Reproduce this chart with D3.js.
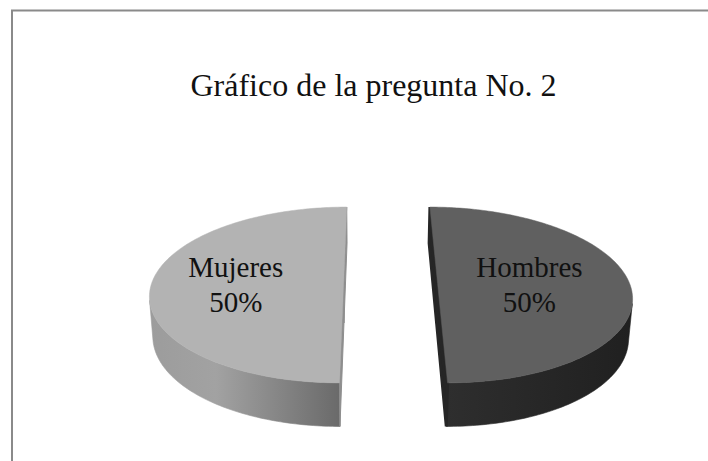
<!DOCTYPE html>
<html><head><meta charset="utf-8">
<script src="https://cdn.jsdelivr.net/npm/d3@7"></script>
<style>html,body{margin:0;padding:0;background:#fff;} svg{display:block;}</style>
</head><body>
<script>
// ---- data ----
const title = "Gráfico de la pregunta No. 2";
const categories = ["Hombres", "Mujeres"];
const values = [50, 50];

// ---- styles ----
const topColors = ["#606060", "#b3b3b3"];
const sideStops = [
  [["0", "#2e2e2e"], ["1", "#202020"]],
  [["0", "#9c9c9c"], ["0.35", "#a2a2a2"], ["1", "#6a6a6a"]]
];
const cutColors = ["#262626", "#8e8e8e"];

const W = 708, H = 461;
const R = 1, explode = 0.245, depth = 0.234;
const sinT = 0.45, cosT = Math.sqrt(1 - sinT * sinT);
const camD = 6.85, camX = -0.102, focal = 1315, cx = 371, cy = 283.5;
const camPos = [camX, camD * sinT, camD * cosT];

function project([X, Y, Z]) {
  const dist = camD - (Z * cosT + Y * sinT);
  const v = Y * cosT - Z * sinT;
  return [cx + focal * (X - camX) / dist, cy - focal * v / dist];
}

const svg = d3.select("body").append("svg").attr("width", W).attr("height", H);
const defs = svg.append("defs");

// frame
svg.append("rect").attr("x", 12).attr("y", 10.5).attr("width", 760).attr("height", 520)
  .attr("fill", "none").attr("stroke", "#8a8a8a").attr("stroke-width", 2);

// title
svg.append("text").attr("x", 373.5).attr("y", 96).attr("text-anchor", "middle")
  .attr("font-family", "'Liberation Serif','Times New Roman',serif").attr("font-size", 32)
  .attr("fill", "#111").text(title);

const total = d3.sum(values);
const arcs = d3.pie().sort(null).value(d => d)(values);
const line = d3.line();
const N = 180;

const sideLayer = svg.append("g");
const topLayer = svg.append("g");
const labelLayer = svg.append("g");

arcs.forEach((a, i) => {
  const s = a.startAngle, e = a.endAngle, mid = (s + e) / 2;
  const ox = explode * Math.sin(mid), oz = -explode * Math.cos(mid);
  const rim = (ang, y) => [ox + R * Math.sin(ang), y, oz - R * Math.cos(ang)];
  const angs = d3.range(N + 1).map(k => s + (e - s) * k / N);

  // outer side: visible runs
  const visible = (ang) => {
    const p = rim(ang, -depth / 2);
    const n = [Math.sin(ang), 0, -Math.cos(ang)];
    return n[0] * (camPos[0] - p[0]) + n[1] * (camPos[1] - p[1]) + n[2] * (camPos[2] - p[2]) > 0;
  };
  const runs = [];
  let cur = null;
  for (let k = 0; k < N; k++) {
    const m = (angs[k] + angs[k + 1]) / 2;
    if (visible(m)) {
      if (!cur) { cur = [angs[k]]; runs.push(cur); }
      cur.push(angs[k + 1]);
    } else cur = null;
  }
  const gid = "side" + i;
  let minX = Infinity, maxX = -Infinity;
  runs.forEach(r => r.forEach(ang => {
    const px = project(rim(ang, 0))[0]; minX = Math.min(minX, px); maxX = Math.max(maxX, px);
  }));
  const g = defs.append("linearGradient").attr("id", gid).attr("gradientUnits", "userSpaceOnUse")
    .attr("x1", minX).attr("x2", maxX).attr("y1", 0).attr("y2", 0);
  sideStops[i].forEach(([o, c]) => g.append("stop").attr("offset", o).attr("stop-color", c));

  runs.forEach(r => {
    const pts = r.map(ang => project(rim(ang, 0)))
      .concat(r.slice().reverse().map(ang => project(rim(ang, -depth))));
    sideLayer.append("path").attr("d", line(pts) + "Z").attr("fill", `url(#${gid})`)
      .attr("stroke", `url(#${gid})`).attr("stroke-width", 0.6);
  });

  // cut faces
  [[s, [-Math.cos(s), 0, -Math.sin(s)]], [e, [Math.cos(e), 0, Math.sin(e)]]].forEach(([ang, n]) => {
    const c = [ox, 0, oz];
    const dot = n[0] * (camPos[0] - c[0]) + n[2] * (camPos[2] - c[2]);
    if (dot <= 0) return;
    const pts = [[ox, 0, oz], rim(ang, 0), rim(ang, -depth), [ox, -depth, oz]].map(project);
    sideLayer.append("path").attr("d", line(pts) + "Z").attr("fill", cutColors[i])
      .attr("stroke", cutColors[i]).attr("stroke-width", i === 0 ? 3 : 1);
  });

  // top face
  const topPts = [project([ox, 0, oz])].concat(angs.map(ang => project(rim(ang, 0))));
  topLayer.append("path").attr("d", line(topPts) + "Z").attr("fill", topColors[i])
    .attr("stroke", topColors[i]).attr("stroke-width", 0.5);

  // label
  const k = 0.52;
  const lp = project([ox + k * R * Math.sin(mid), 0, oz - k * R * Math.cos(mid)]);
  const t = labelLayer.append("text").attr("text-anchor", "middle")
    .attr("font-family", "'Liberation Serif','Times New Roman',serif").attr("font-size", 29)
    .attr("fill", "#111");
  t.append("tspan").attr("x", lp[0] - 8).attr("y", lp[1] - 7).text(categories[i]);
  t.append("tspan").attr("x", lp[0] - 8).attr("y", lp[1] + 28).text(d3.format(".0%")(values[i] / total));
});
</script>
</body></html>
